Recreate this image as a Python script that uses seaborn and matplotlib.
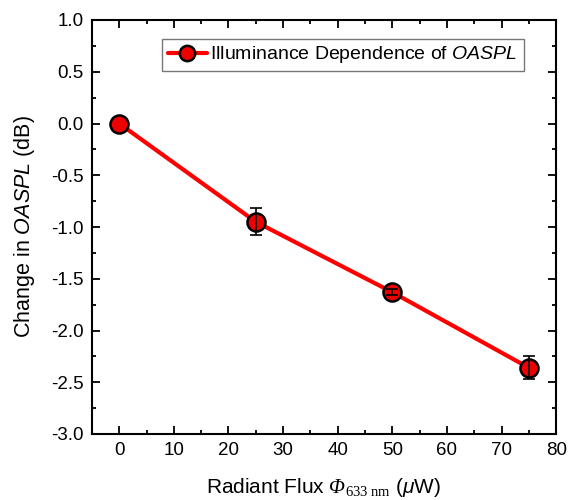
import pandas as pd
import matplotlib
matplotlib.use("Agg")
import matplotlib.pyplot as plt
import seaborn as sns
from matplotlib.ticker import MultipleLocator

# data
flux_uw = [0, 25, 50, 75]
oaspl_change = [0.0, -0.95, -1.63, -2.36]
oaspl_err = [0.0, 0.13, 0.03, 0.11]

df = pd.DataFrame({"flux": flux_uw, "change": oaspl_change, "err": oaspl_err})

sns.set_style("ticks")
plt.rcParams["font.family"] = ["Liberation Sans", "DejaVu Sans"]
plt.rcParams["text.color"] = "black"
plt.rcParams["axes.labelcolor"] = "black"
plt.rcParams["xtick.color"] = "black"
plt.rcParams["ytick.color"] = "black"
plt.rcParams["mathtext.fontset"] = "custom"
plt.rcParams["mathtext.rm"] = "Liberation Serif"
plt.rcParams["mathtext.it"] = "Liberation Serif:italic"
plt.rcParams["mathtext.cal"] = "Liberation Serif:italic"
plt.rcParams["mathtext.sf"] = "Liberation Sans:italic"

fig = plt.figure(figsize=(5.71, 5.0), dpi=100)
ax = fig.add_axes([0.161, 0.132, 0.813, 0.828])

sns.lineplot(data=df, x="flux", y="change", ax=ax, color="#ff0000", linewidth=3,
             marker="o", markersize=13, markerfacecolor="#ee0000",
             markeredgecolor="black", markeredgewidth=1.8,
             label=r"Illuminance Dependence of $\mathsf{OASPL}$", zorder=3)
# no error bar on the reference point at 0
eb = df[df["err"] > 0]
ax.errorbar(eb["flux"], eb["change"], yerr=eb["err"], fmt="none", ecolor="black",
            elinewidth=1.2, capsize=4, capthick=1.2, zorder=4)

ax.set_xlim(-5, 80)
ax.set_ylim(-3.0, 1.0)
ax.xaxis.set_major_locator(MultipleLocator(10))
ax.xaxis.set_minor_locator(MultipleLocator(5))
ax.yaxis.set_major_locator(MultipleLocator(0.5))
ax.yaxis.set_minor_locator(MultipleLocator(0.25))
ax.yaxis.set_major_formatter(matplotlib.ticker.FormatStrFormatter("%.1f"))
ax.tick_params(which="both", direction="in", top=True, right=True, width=1.3,
               labelsize=13.5, color="black", labelcolor="black")
ax.tick_params(which="major", length=6, pad=6)
ax.tick_params(which="minor", length=3)
for s in ax.spines.values():
    s.set_linewidth(1.5)
    s.set_color("black")

ax.set_xlabel(r"Radiant Flux $\mathcal{Φ}_{\mathrm{633\ nm}}$ ($\mathsf{\mu}$W)",
              fontsize=15, labelpad=12)
ax.set_ylabel(r"Change in $\mathsf{OASPL}$ (dB)", fontsize=15.5, labelpad=10)

leg = ax.legend(loc="upper right", bbox_to_anchor=(0.93, 0.955), fontsize=14,
                frameon=True, fancybox=False, handlelength=2.0, markerscale=0.85,
                borderpad=0.3, handletextpad=0.2, borderaxespad=0)
leg.get_frame().set_edgecolor("#555555")
leg.get_frame().set_linewidth(1.0)

fig.savefig("out.png", dpi=100)
